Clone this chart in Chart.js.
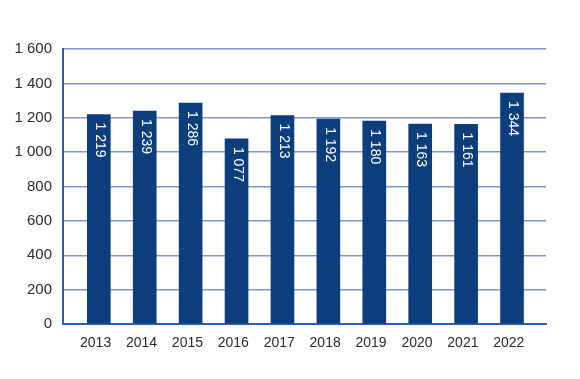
<!DOCTYPE html>
<html>
<head>
<meta charset="utf-8">
<script src="https://cdn.jsdelivr.net/npm/chart.js@4"></script>
<style>
  html, body { margin: 0; padding: 0; background: #ffffff; }
  #wrap { width: 580px; height: 379px; position: relative; }
</style>
</head>
<body>
<div id="wrap"><canvas id="chart" width="580" height="379"></canvas></div>
<script>
const years = ["2013", "2014", "2015", "2016", "2017", "2018", "2019", "2020", "2021", "2022"];
const values = [1219, 1239, 1286, 1077, 1213, 1192, 1180, 1163, 1161, 1344];
const yTicks = [0, 200, 400, 600, 800, 1000, 1200, 1400, 1600];

const colors = {
  bar: "#0c3e7e",
  grid: "#7f97c9",
  axis: "#2e5fae",
  text: "#2b2b2b",
  label: "#ffffff",
};

const formatNumber = (value) =>
  String(value).replace(/\B(?=(\d{3})+(?!\d))/g, " ");

const barLabels = {
  id: "barLabels",
  afterDatasetsDraw(chart) {
    const ctx = chart.ctx;
    const meta = chart.getDatasetMeta(0);
    ctx.save();
    ctx.fillStyle = colors.label;
    ctx.font = "14px 'Liberation Sans', Arial, sans-serif";
    ctx.textAlign = "left";
    ctx.textBaseline = "middle";
    meta.data.forEach((bar, i) => {
      ctx.save();
      ctx.translate(bar.x + 1, bar.y + 8);
      ctx.rotate(Math.PI / 2);
      ctx.fillText(formatNumber(values[i]), 0, 0);
      ctx.restore();
    });
    ctx.restore();
  },
};

new Chart(document.getElementById("chart").getContext("2d"), {
  type: "bar",
  data: {
    datasets: [
      {
        data: values.map((v, i) => ({ x: i, y: v })),
        backgroundColor: colors.bar,
        borderWidth: 0,
        barThickness: 23,
      },
    ],
  },
  options: {
    responsive: false,
    animation: false,
    layout: { padding: { top: 49, right: 34, bottom: 0, left: 0 } },
    plugins: {
      legend: { display: false },
      tooltip: { enabled: false },
    },
    scales: {
      x: {
        type: "linear",
        offset: false,
        min: -0.78,
        max: 9.74,
        grid: { display: false },
        border: { display: true, color: colors.axis, width: 2 },
        // labels sit a little left of the bar centres in the original
        afterBuildTicks: (scale) => {
          scale.ticks = years.map((_, i) => ({ value: i - 0.07 }));
        },
        afterFit: (scale) => {
          scale.height = 55;
        },
        ticks: {
          color: colors.text,
          font: { family: "'Liberation Sans', Arial, sans-serif", size: 14 },
          padding: 3,
          maxRotation: 0,
          autoSkip: false,
          callback: (value) => years[Math.round(value)] ?? "",
        },
      },
      y: {
        min: 0,
        max: 1600,
        afterBuildTicks: (scale) => {
          scale.ticks = yTicks.map((v) => ({ value: v }));
        },
        afterFit: (scale) => {
          scale.width = 63;
        },
        grid: { color: colors.grid, lineWidth: 1.5, drawTicks: false },
        border: { display: true, color: colors.axis, width: 2 },
        ticks: {
          color: colors.text,
          font: { family: "'Liberation Sans', Arial, sans-serif", size: 15 },
          padding: 11,
          callback: (value) => formatNumber(value),
        },
      },
    },
  },
  plugins: [barLabels],
});
</script>
</body>
</html>
